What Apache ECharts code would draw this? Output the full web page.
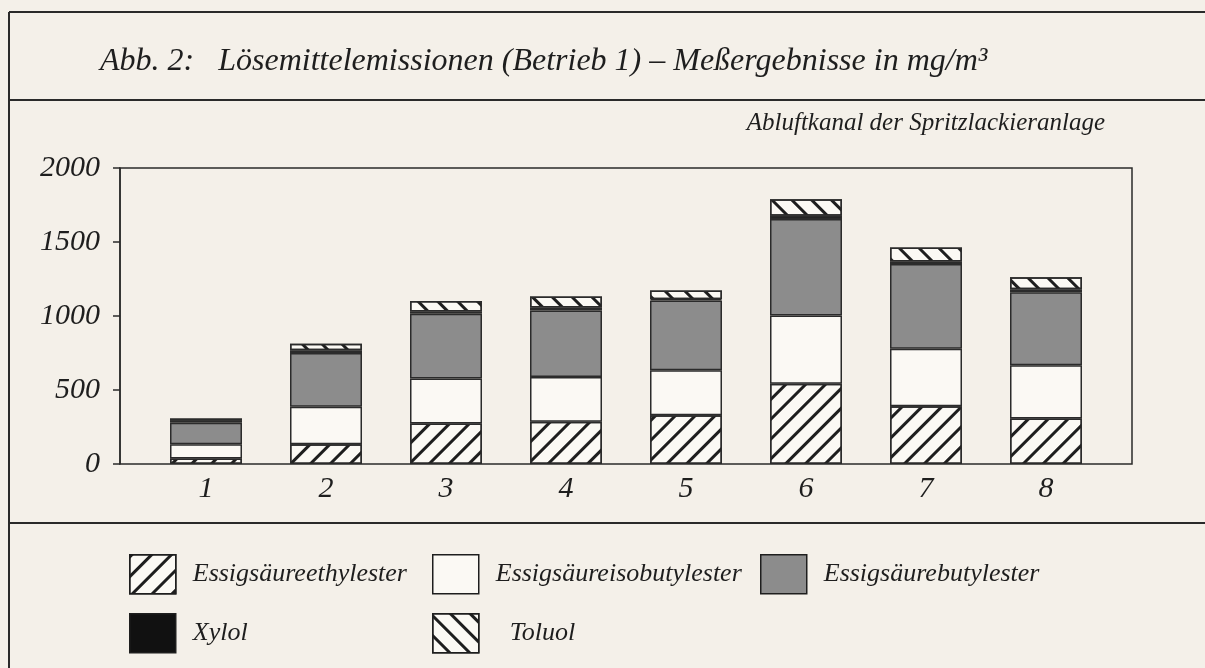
<!DOCTYPE html>
<html>
<head>
<meta charset="utf-8">
<script src="https://cdn.jsdelivr.net/npm/echarts@6/dist/echarts.min.js"></script>
<style>
  html, body { margin: 0; padding: 0; background: #f4f0e9; }
  #chart { width: 1205px; height: 668px; }
</style>
</head>
<body>
<div id="chart"></div>
<script>
// Messstellen (x-Achse)
const categories = ['1', '2', '3', '4', '5', '6', '7', '8'];
const seriesNames = ['Essigsäureethylester', 'Essigsäureisobutylester', 'Essigsäurebutylester', 'Xylol', 'Toluol'];

// Messwerte in mg/m3, gestapelt von unten nach oben
const ethyl    = [38, 133, 274, 285, 330, 543, 391, 308];
const isobutyl = [95, 253, 303, 303, 303, 460, 388, 359];
const butyl    = [145, 364, 438, 449, 471, 652, 572, 493];
const xylol    = [15, 18, 16, 20, 10, 22, 18, 20];
const toluol   = [15, 45, 70, 74, 58, 112, 94, 81];

const yTicks = [0, 500, 1000, 1500, 2000];

const FONT = '"Liberation Serif", "Times New Roman", serif';
const INK = '#1e1e1e';

const hatchUp = { symbol: 'rect', symbolSize: 1, dashArrayX: [1, 0], dashArrayY: [3, 11], rotation: -Math.PI / 4, color: INK };
const hatchDown = { symbol: 'rect', symbolSize: 1, dashArrayX: [1, 0], dashArrayY: [3, 11], rotation: Math.PI / 4, color: INK };

const styles = [
  { color: '#fbf9f4', decal: hatchUp },
  { color: '#fbf9f4' },
  { color: '#8c8c8c' },
  { color: '#111111' },
  { color: '#fbf9f4', decal: hatchDown }
];
const values = [ethyl, isobutyl, butyl, xylol, toluol];

const legendPos = [[129, 554], [432, 554], [760, 554], [129, 613], [432, 613]];
const legendGap = [12, 12, 12, 12, 26];

const chart = echarts.init(document.getElementById('chart'));

const line = (x1, y1, x2, y2) => ({
  type: 'line', silent: true,
  shape: { x1, y1, x2, y2 },
  style: { stroke: '#2a2a2a', lineWidth: 2 }
});

chart.setOption({
  backgroundColor: '#f4f0e9',
  animation: false,
  graphic: [
    line(9, 12, 1205, 12),
    line(9, 12, 9, 668),
    line(9, 100, 1205, 100),
    line(9, 523, 1205, 523),
    {
      type: 'text', left: 100, top: 46,
      style: {
        text: 'Abb. 2:   Lösemittelemissionen (Betrieb 1) – Meßergebnisse in mg/m³',
        font: 'italic 32px ' + FONT, fill: INK
      }
    },
    {
      type: 'text', right: 100, top: 111,
      style: {
        text: 'Abluftkanal der Spritzlackieranlage',
        font: 'italic 25px ' + FONT, fill: INK
      }
    }
  ],
  legend: seriesNames.map((name, i) => ({
    data: [name],
    left: legendPos[i][0],
    top: legendPos[i][1],
    padding: 0,
    icon: 'rect',
    itemWidth: 46,
    itemHeight: 39,
    selectedMode: false,
    itemStyle: { borderColor: INK, borderWidth: 1.5 },
    textStyle: { fontFamily: FONT, fontStyle: 'italic', fontSize: 26, color: INK, padding: [0, 0, 0, legendGap[i]] }
  })),
  grid: [
    // Rahmen des Diagramms
    { left: 120, top: 168, width: 1012, height: 296, show: true, borderColor: '#2a2a2a', borderWidth: 1.5, backgroundColor: 'transparent' },
    // Bereich der Balken
    { left: 146, top: 168, width: 960, height: 296 }
  ],
  xAxis: [
    { gridIndex: 0, type: 'category', show: false, data: categories },
    {
      gridIndex: 1, type: 'category', data: categories,
      axisLine: { show: false }, axisTick: { show: false },
      axisLabel: { margin: 10, fontFamily: FONT, fontStyle: 'italic', fontSize: 30, color: INK }
    }
  ],
  yAxis: [
    { gridIndex: 0, type: 'value', show: false },
    {
      gridIndex: 1, type: 'value', offset: 26,
      min: yTicks[0], max: yTicks[yTicks.length - 1], interval: yTicks[1] - yTicks[0],
      axisLine: { show: true, lineStyle: { color: '#2a2a2a', width: 1.5 } },
      axisTick: { show: true, length: 7, lineStyle: { color: '#2a2a2a', width: 1.5 } },
      splitLine: { show: false },
      axisLabel: {
        margin: 20, fontFamily: FONT, fontStyle: 'italic', fontSize: 30, color: INK,
        formatter: (v) => String(v)
      }
    }
  ],
  series: seriesNames.map((name, i) => ({
    name,
    type: 'bar',
    stack: 'total',
    xAxisIndex: 1,
    yAxisIndex: 1,
    barWidth: 72,
    data: values[i],
    itemStyle: Object.assign({ borderColor: '#2b2b2b', borderWidth: 1.5 }, styles[i])
  }))
});
</script>
</body>
</html>
